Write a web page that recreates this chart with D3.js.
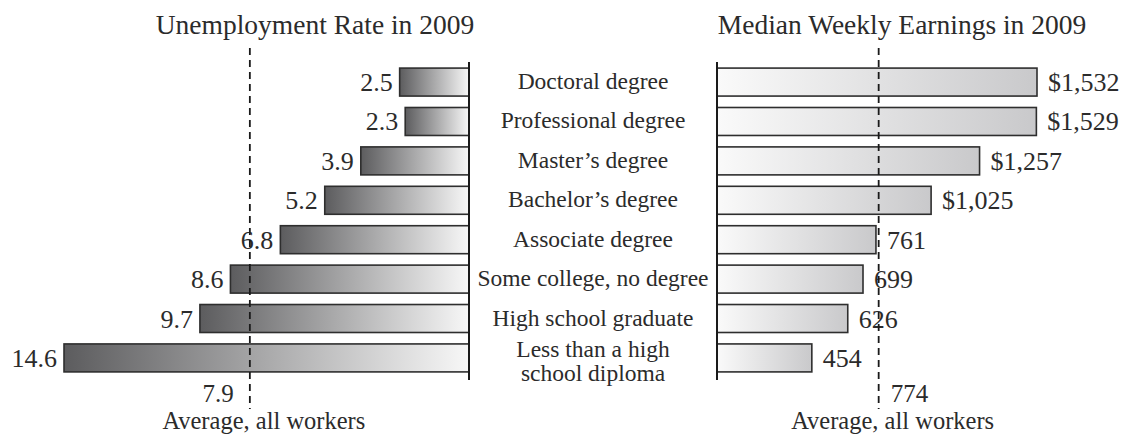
<!DOCTYPE html>
<html>
<head>
<meta charset="utf-8">
<script src="https://cdnjs.cloudflare.com/ajax/libs/d3/7.8.5/d3.min.js"></script>
<style>
    body { margin: 0; background: #fff; }
    svg text { font-family: "Liberation Serif", "Times New Roman", serif; fill: #2b2b2b; }
</style>
</head>
<body>
<div id="chart"></div>
<script>

// categories (top to bottom)
const categories = [
    "Doctoral degree",
    "Professional degree",
    "Master\u2019s degree",
    "Bachelor\u2019s degree",
    "Associate degree",
    "Some college, no degree",
    "High school graduate",
    "Less than a high|school diploma"
];

// unemployment rate, %
const unemployment = [2.5, 2.3, 3.9, 5.2, 6.8, 8.6, 9.7, 14.6];
const unemploymentLabels = ["2.5", "2.3", "3.9", "5.2", "6.8", "8.6", "9.7", "14.6"];
const unemploymentAvg = 7.9;

// median weekly earnings, $
const earnings = [1532, 1529, 1257, 1025, 761, 699, 626, 454];
const earningsLabels = ["$1,532", "$1,529", "$1,257", "$1,025", "761", "699", "626", "454"];
const earningsAvg = 774;

const width = 1126;
const height = 435;

const svg = d3.select("#chart")
    .append("svg")
    .attr("width", width)
    .attr("height", height);

// gradients
const defs = svg.append("defs");

const gLeft = defs.append("linearGradient")
    .attr("id", "gradLeft")
    .attr("x1", "0%").attr("x2", "100%");
gLeft.append("stop").attr("offset", "0%").attr("stop-color", "#5c5c5e");
gLeft.append("stop").attr("offset", "100%").attr("stop-color", "#f7f7f7");

const gRight = defs.append("linearGradient")
    .attr("id", "gradRight")
    .attr("x1", "0%").attr("x2", "100%");
gRight.append("stop").attr("offset", "0%").attr("stop-color", "#fafafa");
gRight.append("stop").attr("offset", "100%").attr("stop-color", "#c9c9cb");

const y = d3.scaleBand()
    .domain(categories)
    .range([61, 379])
    .paddingInner(0.29)
    .paddingOuter(0.18);

// left: bars grow leftwards from the axis
const leftAxisX = 469;
const xLeft = d3.scaleLinear()
    .domain([0, 14.6])
    .range([leftAxisX, 64]);

// right: bars grow rightwards
const rightAxisX = 717;
const xRight = d3.scaleLinear()
    .domain([0, 1532])
    .range([rightAxisX, 1037]);

const rows = categories.map((c, i) => ({
    cat: c,
    u: unemployment[i], uLabel: unemploymentLabels[i],
    e: earnings[i], eLabel: earningsLabels[i]
}));

//LEFT BARS
svg.selectAll("rect.left")
    .data(rows)
    .enter()
    .append("rect")
    .attr("class", "left")
    .attr("x", d => xLeft(d.u))
    .attr("y", d => y(d.cat))
    .attr("width", d => leftAxisX - xLeft(d.u))
    .attr("height", y.bandwidth())
    .attr("fill", "url(#gradLeft)")
    .attr("stroke", "#2e2e2e")
    .attr("stroke-width", 1.6);

svg.selectAll("text.leftval")
    .data(rows)
    .enter()
    .append("text")
    .attr("class", "leftval")
    .attr("x", d => xLeft(d.u) - 7)
    .attr("y", d => y(d.cat) + y.bandwidth() / 2 + 9)
    .attr("text-anchor", "end")
    .attr("font-size", 26)
    .text(d => d.uLabel);

//RIGHT BARS
svg.selectAll("rect.right")
    .data(rows)
    .enter()
    .append("rect")
    .attr("class", "right")
    .attr("x", rightAxisX)
    .attr("y", d => y(d.cat))
    .attr("width", d => xRight(d.e) - rightAxisX)
    .attr("height", y.bandwidth())
    .attr("fill", "url(#gradRight)")
    .attr("stroke", "#2e2e2e")
    .attr("stroke-width", 1.6);

svg.selectAll("text.rightval")
    .data(rows)
    .enter()
    .append("text")
    .attr("class", "rightval")
    .attr("x", d => xRight(d.e) + 11)
    .attr("y", d => y(d.cat) + y.bandwidth() / 2 + 9)
    .attr("font-size", 26)
    .text(d => d.eLabel);

// axes (baselines)
[leftAxisX, rightAxisX].forEach(x => {
    svg.append("line")
        .attr("x1", x).attr("x2", x)
        .attr("y1", 62).attr("y2", 380)
        .attr("stroke", "#1a1a1a")
        .attr("stroke-width", 2);
});

// category labels
const labels = svg.selectAll("text.cat")
    .data(rows)
    .enter()
    .append("text")
    .attr("class", "cat")
    .attr("x", (leftAxisX + rightAxisX) / 2)
    .attr("y", d => {
        const lines = d.cat.split("|");
        return y(d.cat) + y.bandwidth() / 2 + (lines.length > 1 ? -1 : 7);
    })
    .attr("text-anchor", "middle")
    .attr("font-size", 23.5);

labels.each(function (d) {
    const lines = d.cat.split("|");
    d3.select(this).selectAll("tspan")
        .data(lines)
        .enter()
        .append("tspan")
        .attr("x", (leftAxisX + rightAxisX) / 2)
        .attr("dy", (l, i) => i === 0 ? 0 : 24)
        .text(l => l);
});

// average lines
const avgLines = [
    { x: xLeft(unemploymentAvg), label: "7.9", anchor: "end", dx: -16 },
    { x: xRight(earningsAvg), label: "774", anchor: "start", dx: 12 }
];

avgLines.forEach(a => {
    svg.append("line")
        .attr("x1", a.x).attr("x2", a.x)
        .attr("y1", 48).attr("y2", 409)
        .attr("stroke", "#1a1a1a")
        .attr("stroke-width", 1.8)
        .attr("stroke-dasharray", "7,5");

    svg.append("text")
        .attr("x", a.x + a.dx)
        .attr("y", 402)
        .attr("text-anchor", a.anchor)
        .attr("font-size", 25)
        .text(a.label);

    svg.append("text")
        .attr("x", a.x + 14)
        .attr("y", 429)
        .attr("text-anchor", "middle")
        .attr("font-size", 24.5)
        .text("Average, all workers");
});

// titles
svg.append("text")
    .attr("x", 315)
    .attr("y", 34)
    .attr("text-anchor", "middle")
    .attr("font-size", 27.5)
    .text("Unemployment Rate in 2009");

svg.append("text")
    .attr("x", 902)
    .attr("y", 34)
    .attr("text-anchor", "middle")
    .attr("font-size", 27.5)
    .text("Median Weekly Earnings in 2009");

</script>
</body>
</html>
